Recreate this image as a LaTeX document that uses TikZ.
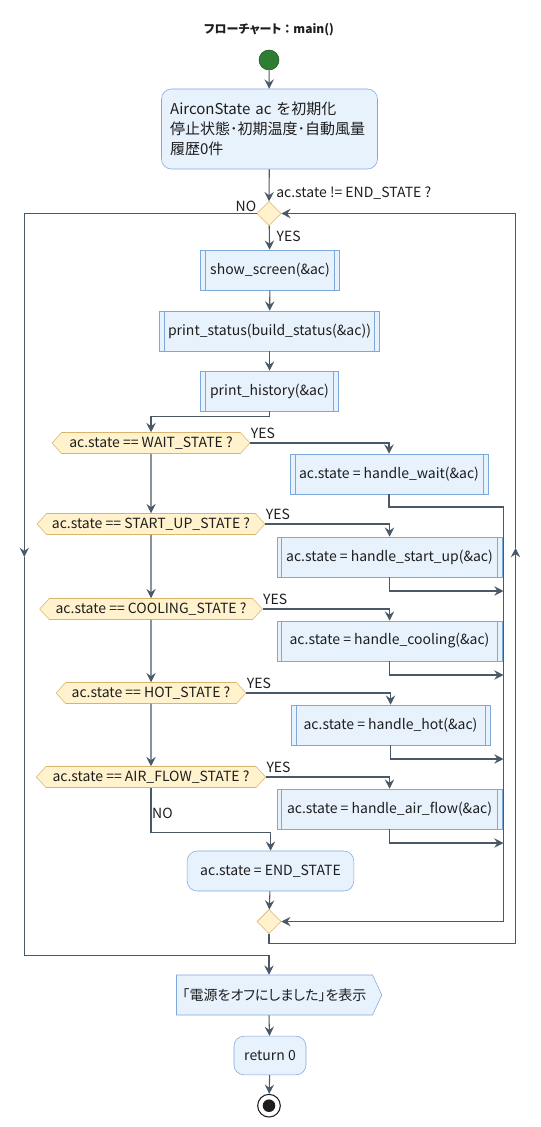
\documentclass[tikz,border=0pt]{standalone}
\usepackage{fontspec}
\setmainfont{Noto Sans CJK JP}
\usetikzlibrary{arrows.meta,positioning,shapes.geometric,shapes.symbols}
\definecolor{actfill}{HTML}{E8F2FD}
\definecolor{actline}{HTML}{7DA8DC}
\definecolor{condfill}{HTML}{FFF2CC}
\definecolor{condline}{HTML}{D9B46C}
\definecolor{linegray}{HTML}{4A5967}
\definecolor{startgreen}{HTML}{2E7D32}
\definecolor{inkdark}{HTML}{1E1E1E}

\begin{document}
\begin{tikzpicture}[
            x=0.75pt, y=-0.75pt,
            font=\fontsize{10.5}{15}\selectfont,
            every node/.style={text=inkdark},
            act/.style={
                draw=actline, fill=actfill, rounded corners=7.5pt,
                minimum height=30pt, inner xsep=7.5pt
            },
            sub/.style={
                draw=actline, fill=actfill, minimum height=30pt,
                path picture={
                    \draw[actline]
                        ([xshift=3.6pt]path picture bounding box.north west) -- ([xshift=3.6pt]path picture bounding box.south west)
                        ([xshift=-3.6pt]path picture bounding box.north east) -- ([xshift=-3.6pt]path picture bounding box.south east);
                }
            },
            cond/.style={
                draw=condline, fill=condfill, shape=signal,
                signal to=east and west, signal pointer angle=95,
                minimum height=15.75pt, inner ysep=0pt, inner xsep=2pt
            },
            knot/.style={
                draw=condline, fill=condfill, diamond,
                minimum width=18pt, minimum height=18pt, inner sep=0pt
            },
            link/.style={draw=linegray, line width=0.8pt},
            flow/.style={link, -{Stealth[length=7pt,width=7pt,inset=2.5pt]}},
            lbl/.style={inner sep=0pt}
        ]
        \useasboundingbox (0,0) rectangle (540,1127);

        \node[font=\fontsize{9}{11}\selectfont\bfseries] (title) at (269,30) {{\addfontfeature{RawFeature=+palt}フローチャート}：main()};
        \node[circle, draw=startgreen!70!black, fill=startgreen, minimum size=15pt, inner sep=0pt] (start) at (269,60) {};
        \node[act, font=\fontsize{11.25}{15}\selectfont, inner xsep=6.5pt, text width=149pt, align=left, minimum height=60pt] (init) at (269.5,129)
            {AirconState ac を初期化\\停止状態･初期温度･自動風量\\履歴0件};
        \node[knot] (loop) at (269,213.5) {};

        \node[sub, minimum width=104pt] (show) at (270,270) {show\_screen(\&ac)};
        \node[sub, minimum width=165pt] (status) at (269.5,331) {print\_status(build\_status(\&ac))};
        \node[sub, minimum width=103.5pt] (hist) at (269.5,391) {print\_history(\&ac)};

        % decisions
        \node[cond, minimum width=148.5pt] (cwait) at (151,443) {ac.state == WAIT\_STATE ?};
        \node[cond, minimum width=171pt] (cstart) at (151,524) {ac.state == START\_UP\_STATE ?};
        \node[cond, minimum width=167pt] (ccool) at (151,609) {ac.state == COOLING\_STATE ?};
        \node[cond, minimum width=142.5pt] (chot) at (151,693) {ac.state == HOT\_STATE ?};
        \node[cond, minimum width=172pt] (cair) at (151,777) {ac.state == AIR\_FLOW\_STATE ?};

        \node[sub, minimum width=148.5pt] (hwait) at (389,474) {ac.state = handle\_wait(\&ac)};
        \node[sub, minimum width=169pt] (hstart) at (389.5,557) {ac.state = handle\_start\_up(\&ac)};
        \node[sub, minimum width=169pt] (hcool) at (389.5,641) {ac.state = handle\_cooling(\&ac)};
        \node[sub, minimum width=149pt] (hhot) at (390.5,725) {ac.state = handle\_hot(\&ac)};
        \node[sub, minimum width=169pt] (hair) at (389.5,809) {ac.state = handle\_air\_flow(\&ac)};

        \node[act, minimum width=125pt] (endst) at (270.5,871) {ac.state = END\_STATE};
        \node[knot] (merge) at (269,921.5) {};

        \node[draw=actline, fill=actfill, shape=signal, signal to=east, signal pointer angle=130,
              minimum width=154pt, minimum height=30pt,
              font=\fontsize{10.5}{15}\selectfont\addfontfeature{RawFeature=+palt}] (disp) at (274.5,995) {｢電源をオフにしました｣を表示};
        \node[act, minimum width=54pt, minimum height=29pt] (ret) at (270,1055.5) {return 0};
        \node[circle, draw=inkdark, fill=white, line width=0.8pt, minimum size=17pt, inner sep=0pt] (stop) at (269,1105.7) {};
        \fill[inkdark] (stop) circle (4.7pt);

        \coordinate (m1) at (503.5,507);
        \coordinate (m2) at (503.5,591);
        \coordinate (m3) at (503.5,675);
        \coordinate (m4) at (503.5,759);
        \coordinate (m5) at (503.5,843);
        \coordinate (rj) at (503.5,921.5);
        \coordinate (rup) at (515.5,548);
        \coordinate (ldn) at (24.3,557);
        \coordinate (col) at (269,955.5);

        \draw[flow] (start) -- (init);
        \draw[flow] (init) -- node[lbl, pos=0.73, anchor=west, xshift=5pt] {ac.state != END\_STATE ?} (loop);
        \draw[flow] (loop) -- node[lbl, pos=0.44, anchor=west, xshift=5pt] {YES} (show);
        \draw[flow] (show) -- (status);
        \draw[flow] (status) -- (hist);
        \draw[flow] (hist.south) -- ++(0,5) -| (cwait.north);

        \draw[flow] (cwait.east) node[lbl, anchor=south west, yshift=2.5pt] {YES} -| (hwait.north);
        \draw[flow] (cstart.east) node[lbl, anchor=south west, yshift=2.5pt] {YES} -| (hstart.north);
        \draw[flow] (ccool.east) node[lbl, anchor=south west, yshift=2.5pt] {YES} -| (hcool.north);
        \draw[flow] (chot.east) node[lbl, anchor=south west, yshift=2.5pt] {YES} -| (hhot.north);
        \draw[flow] (cair.east) node[lbl, anchor=south west, yshift=2.5pt] {YES} -| (hair.north);

        \draw[flow] (cwait) -- (cstart);
        \draw[flow] (cstart) -- (ccool);
        \draw[flow] (ccool) -- (chot);
        \draw[flow] (chot) -- (cair);
        \draw[flow] (cair.south) -- node[lbl, pos=0.57, anchor=west, xshift=0.5pt] {NO} ++(0,45) -| (endst.north);

        \draw[flow] (hwait.south) |- (m1) -- (rj) -- (merge);
        \draw[flow] (hstart.south) |- (m2);
        \draw[flow] (hcool.south) |- (m3);
        \draw[flow] (hhot.south) |- (m4);
        \draw[flow] (hair.south) |- (m5);
        \draw[flow] (endst) -- (merge);

        \draw[flow] (merge.south) -- ++(0,10) -| (rup);
        \draw[flow] (rup) |- (loop.east);
        \draw[flow] (loop.west) node[lbl, anchor=south east, yshift=1pt] {NO} -| (ldn);
        \draw[flow] (ldn) |- (col) -- (disp.north -| col);

        \draw[flow] (disp.south -| col) -- (ret);
        \draw[flow] (ret) -- (stop);
        \end{tikzpicture}
\end{document}
